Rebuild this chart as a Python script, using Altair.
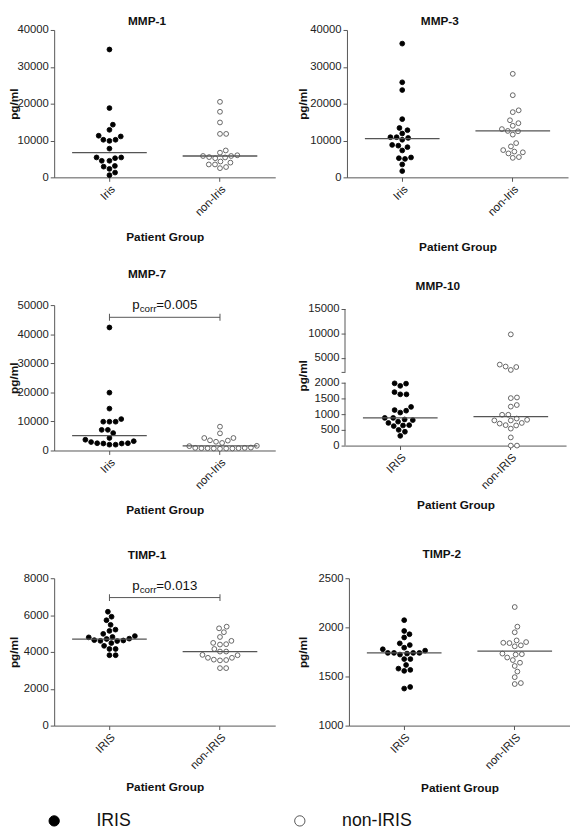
import math
import altair as alt
import numpy as np
import pandas as pd

FONT = "Liberation Sans"
GREY = "#555555"
GROUPS = ["IRIS", "non-IRIS"]

# ---------------- data (pg/ml) ----------------
mmp1_iris = [34700, 18800, 14300, 12900, 11100, 11300, 10200, 9900, 10200, 7800,
             5400, 5200, 5400, 4500, 4500, 3100, 2900, 2300, 1300, 600]
mmp1_non = [20500, 17800, 14900, 11800, 11800, 7300, 6700, 5800, 5400, 5200,
            5500, 5800, 6000, 4000, 3500, 4300, 3500, 2500, 2800]
mmp3_iris = [36300, 25800, 23700, 15800, 13400, 12800, 11900, 10900, 10200, 10700,
             10900, 8800, 8200, 8600, 7300, 5200, 5000, 5400, 3500, 1700]
mmp3_non = [28100, 22300, 18200, 17700, 15500, 14700, 14000, 13100, 12500, 12600,
            11600, 9300, 8400, 7400, 7000, 6500, 6800, 5300, 5500]
mmp7_iris = [42300, 19900, 14400, 9900, 9900, 9900, 10800, 7100, 7100, 6000,
             3700, 2900, 2500, 2400, 2000, 2000, 2400, 2500, 3200, 4300]
mmp7_non = [8200, 5900, 4300, 3400, 3000, 3500, 4300, 1600, 900, 800,
            800, 700, 700, 600, 700, 800, 900, 1000, 1500, 2600]
mmp10_iris = [1970, 1900, 1980, 1700, 1630, 1630, 1230, 1110, 1050, 1130, 880,
              810, 760, 720, 830, 880, 650, 620, 640, 500, 440, 310]
mmp10_non = [9800, 3600, 3100, 2500, 3200, 1510, 1530, 1290, 1240, 980, 980,
             860, 800, 800, 820, 650, 640, 700, 720, 540, 260, 0, 0]
timp1_iris = [6180, 5910, 5720, 5470, 5210, 5140, 4980, 4860, 4810, 4790, 4640,
              4590, 4600, 4700, 4720, 4620, 4480, 4160, 4330, 4160, 3820, 3820]
timp1_non = [5370, 5280, 5070, 4810, 4600, 4420, 4400, 4490, 4160, 4020, 4020,
             3840, 3680, 3560, 3540, 3580, 3680, 3820, 3120, 3120]
timp2_iris = [2073, 1963, 1930, 1897, 1820, 1837, 1793, 1777, 1763, 1740, 1723, 1740,
              1733, 1740, 1740, 1677, 1677, 1617, 1567, 1557, 1580, 1377, 1393]
timp2_non = [2207, 2007, 1950, 1843, 1867, 1850, 1840, 1817, 1807, 1733, 1723, 1727,
             1667, 1693, 1607, 1640, 1550, 1493, 1423, 1433]

# horizontal lines (central value) as drawn in each panel: [IRIS, non-IRIS]
mmp1_line = [6700, 5800]
mmp3_line = [10500, 12600]
mmp7_line = [5100, 1600]
mmp10_line = [880, 920]
timp1_line = [4700, 4020]
timp2_line = [1740, 1757]

# significance brackets
mmp7_bracket = {"y": 45800, "p": "=0.005"}
timp1_bracket = {"y": 6950, "p": "=0.013"}

W = 225

FILL_SCALE = alt.Scale(domain=GROUPS, range=["#000000", "#ffffff"])
STROKE_SCALE = alt.Scale(domain=GROUPS, range=["#000000", GREY])
LEGEND = alt.Legend(
    title=None, orient="none", legendX=-9, legendY=796, direction="horizontal",
    columns=2, symbolType="circle", symbolSize=110, symbolStrokeColor="#333333",
    symbolStrokeWidth=1, labelFontSize=18, labelFont=FONT, labelColor="#111111",
    labelOffset=34, columnPadding=162, padding=0, offset=0,
)


def swarm(vals, to_px, d=6.3):
    ys = [to_px(v) for v in vals]
    order = sorted(range(len(vals)), key=lambda i: -ys[i])
    placed = []
    xs = [0.0] * len(vals)
    for i in order:
        y = ys[i]
        ivs = []
        for xj, yj in placed:
            dy = abs(y - yj)
            if dy < d:
                w = math.sqrt(d * d - dy * dy)
                ivs.append((xj - w, xj + w))
        cands = [0.0] + [a for a, b in ivs] + [b for a, b in ivs]
        cands.sort(key=lambda c: (round(abs(c), 6), -c))
        for c in cands:
            if all(not (a + 1e-6 < c < b - 1e-6) for a, b in ivs):
                xs[i] = c
                break
        placed.append((xs[i], y))
    return xs


def panel(title, iris, non, lines, domain, rng, ticks, H, title_x, xtitle_y,
          mixed_case, title_offset, bracket=None, broken=False):
    to_px = lambda v: float(np.interp(v, domain, rng))
    off = swarm(iris, to_px) + swarm(non, to_px)
    df = pd.DataFrame({
        "group": ["IRIS"] * len(iris) + ["non-IRIS"] * len(non),
        "value": iris + non,
        "off": off,
    })
    line_df = pd.DataFrame({"group": GROUPS, "value": lines})

    lab_expr = ("datum.value == 'IRIS' ? 'Iris' : 'non-Iris'" if mixed_case
                else "datum.label")
    xscale = alt.Scale(type="band", domain=GROUPS, paddingInner=0, paddingOuter=0)
    xaxis = alt.Axis(
        title="Patient Group", labelAngle=-45, labelExpr=lab_expr,
        labelFontSize=11.5, labelFont=FONT, labelColor="#222222", labelPadding=2,
        labelOverlap=False,
        tickSize=4, tickColor=GREY, domainColor=GREY,
        titleFontSize=12, titleFont=FONT, titleFontWeight="bold",
        titleColor="#111111", titleY=xtitle_y, titleBaseline="middle",
    )
    if broken:
        lab_y = "datum.value == 2100 ? '' : datum.label"
    else:
        lab_y = "datum.label"
    yscale = alt.Scale(domain=domain, range=rng, nice=False, zero=False)
    yaxis = alt.Axis(
        title="pg/ml", values=ticks, format="d", labelExpr=lab_y, grid=False,
        labelOverlap=False,
        labelFontSize=11.5, labelFont=FONT, labelColor="#222222", labelPadding=2,
        tickSize=4, tickColor=GREY, domain=not broken, domainColor=GREY,
        titleFontSize=12, titleFont=FONT, titleFontWeight="bold",
        titleColor="#111111", titleX=title_x, titleY=H / 2,
        titleBaseline="middle", titleAngle=-90,
    )
    X = lambda f, **kw: alt.X(f, axis=xaxis, **kw)
    Y = lambda f: alt.Y(f, axis=yaxis)

    pts = alt.Chart(df).mark_point(
        filled=True, shape="circle", size=24, opacity=1, strokeWidth=0.9
    ).encode(
        x=alt.X("group:N", scale=xscale, axis=xaxis),
        xOffset=alt.XOffset("off:Q", scale=alt.Scale(domain=[-W / 4, W / 4],
                                                     range=[0, W / 2])),
        y=alt.Y("value:Q", scale=yscale, axis=yaxis),
        fill=alt.Fill("group:N", scale=FILL_SCALE, legend=LEGEND),
        stroke=alt.Stroke("group:N", scale=STROKE_SCALE, legend=None),
    )
    med = alt.Chart(line_df).mark_tick(
        size=76, thickness=1.3, color=GREY, opacity=1
    ).encode(x=X("group:N"), y=Y("value:Q"))
    layers = [pts, med]

    if broken:
        seg_df = pd.DataFrame({"a": [domain[0], domain[2]], "b": [domain[1], domain[3]]})
        segs = alt.Chart(seg_df).mark_rule(color=GREY, strokeWidth=1).encode(
            x=alt.value(0), y=Y("a:Q"), y2="b:Q")
        layers.append(segs)

    if bracket is not None:
        bdf = pd.DataFrame({"g1": ["IRIS"], "g2": ["non-IRIS"], "y": [bracket["y"]]})
        cdf = pd.DataFrame({"group": GROUPS, "y": [bracket["y"]] * 2})
        rule = alt.Chart(bdf).mark_rule(color=GREY, strokeWidth=1).encode(
            x=X("g1:N"), x2="g2:N", y=Y("y:Q"))
        caps = alt.Chart(cdf).mark_tick(
            orient="vertical", size=7, thickness=1, color=GREY, opacity=1
        ).encode(x=X("group:N"), y=Y("y:Q"))
        tx = X("g1:N", bandPosition=1)
        t1 = alt.Chart(bdf).mark_text(
            text="p", align="left", baseline="alphabetic", dx=-33, dy=-8,
            fontSize=13.5, font=FONT, color="#111111"
        ).encode(x=tx, y=Y("y:Q"))
        t2 = alt.Chart(bdf).mark_text(
            text="corr", align="left", baseline="alphabetic", dx=-25.5, dy=-5,
            fontSize=10, font=FONT, color="#111111"
        ).encode(x=tx, y=Y("y:Q"))
        t3 = alt.Chart(bdf).mark_text(
            text=bracket["p"], align="left", baseline="alphabetic", dx=-8.5, dy=-8,
            fontSize=13.5, font=FONT, color="#111111"
        ).encode(x=tx, y=Y("y:Q"))
        layers += [rule, caps, t1, t2, t3]

    return alt.layer(*layers).properties(
        width=W, height=H,
        title=alt.TitleParams(title, fontSize=12, font=FONT, fontWeight="bold",
                              color="#111111", dx=-18, offset=title_offset),
    )


p1 = panel("MMP-1", mmp1_iris, mmp1_non, mmp1_line, [0, 40000], [150, 0],
           [0, 10000, 20000, 30000, 40000], 150, -41, 60, True, -4)
p2 = panel("MMP-3", mmp3_iris, mmp3_non, mmp3_line, [0, 40000], [150, 0],
           [0, 10000, 20000, 30000, 40000], 150, -45, 70, True, -4)
p3 = panel("MMP-7", mmp7_iris, mmp7_non, mmp7_line, [0, 50000], [148, 0],
           [0, 10000, 20000, 30000, 40000, 50000], 148, -41, 60, True, 18,
           bracket=mmp7_bracket)
p4 = panel("MMP-10", mmp10_iris, mmp10_non, mmp10_line, [0, 2000, 2100, 15000],
           [143, 79, 68, 4], [0, 500, 1000, 1500, 2000, 2100, 5000, 10000, 15000],
           143, -43, 60, False, 10, broken=True)
p5 = panel("TIMP-1", timp1_iris, timp1_non, timp1_line, [0, 8000], [150, 0],
           [0, 2000, 4000, 6000, 8000], 150, -41, 62, False, 11,
           bracket=timp1_bracket)
p6 = panel("TIMP-2", timp2_iris, timp2_non, timp2_line, [1000, 2500], [150, 0],
           [1000, 1500, 2000, 2500], 150, -47, 63, False, 12)

row1 = alt.hconcat(p1, p2, spacing=22)
row2 = alt.hconcat(p3, p4, spacing=22)
row3 = alt.hconcat(p5, p6, spacing=22)

chart = alt.vconcat(
    alt.vconcat(row1, row2, spacing=16), row3, spacing=33
).properties(padding=0).configure(font=FONT).configure_view(
    stroke=None).configure_axis(labelOverlap=False)

chart.save("out.html", embed_options={"renderer": "svg", "actions": False})
